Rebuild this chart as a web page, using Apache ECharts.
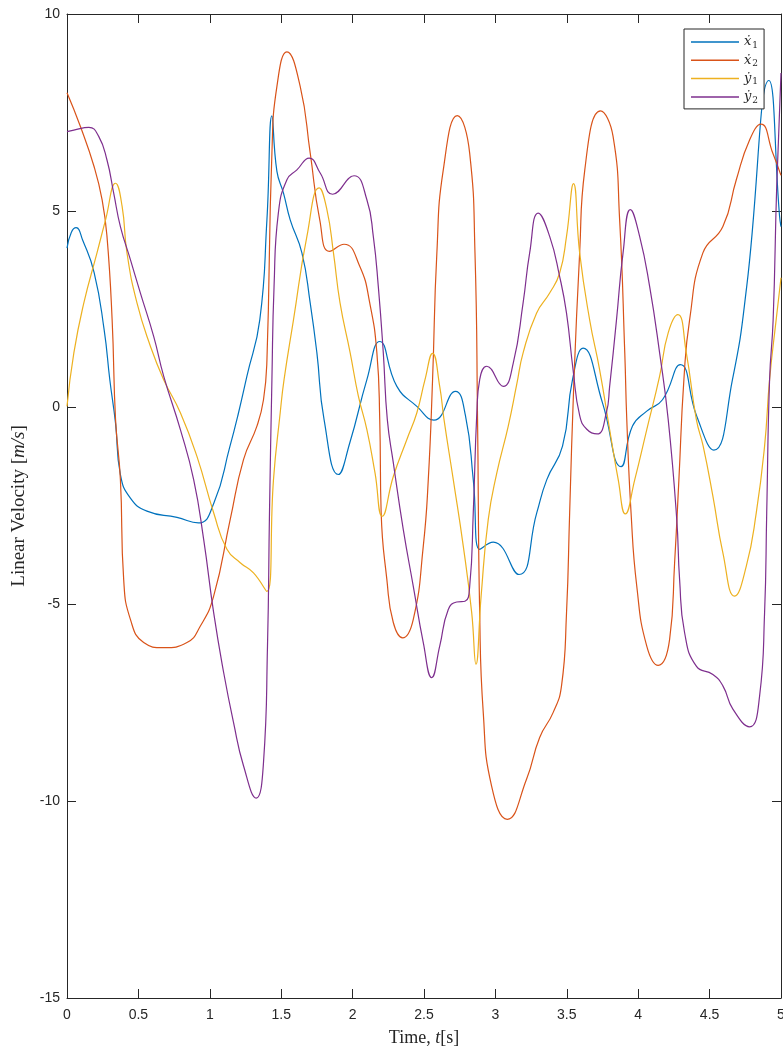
<!DOCTYPE html>
<html>
<head>
<meta charset="utf-8">
<script src="https://cdn.jsdelivr.net/npm/echarts@6/dist/echarts.min.js"></script>
<style>
  html, body { margin: 0; padding: 0; background: #fff; overflow: hidden; }
  #chart { width: 783px; height: 1053px; }
</style>
</head>
<body>
<div id="chart"></div>
<script>
// Velocity traces: [time (s), velocity (m/s)]
const x1Dot = [[0,4.05],[0.03,4.45],[0.064,4.57],[0.11,4.25],[0.19,3.43],[0.26,1.98],[0.30,0.7],[0.34,-0.4],[0.374,-1.7],[0.444,-2.3],[0.56,-2.63],[0.77,-2.79],[0.92,-2.93],[1.03,-2.41],[1.14,-1.0],[1.2,-0.15],[1.26,0.8],[1.35,2.23],[1.40,4.77],[1.435,7.41],[1.47,6.0],[1.516,5.45],[1.563,4.77],[1.645,3.93],[1.703,2.66],[1.75,1.39],[1.80,-0.3],[1.90,-1.70],[1.98,-0.9],[2.10,0.71],[2.19,1.68],[2.31,0.54],[2.45,0.03],[2.57,-0.32],[2.72,0.41],[2.79,-0.2],[2.845,-1.83],[2.89,-3.60],[2.985,-3.42],[3.165,-4.24],[3.29,-2.67],[3.36,-1.83],[3.47,-0.98],[3.54,0.71],[3.614,1.51],[3.75,0.12],[3.88,-1.5],[3.96,-0.47],[4.06,-0.09],[4.17,0.2],[4.295,1.09],[4.41,-0.22],[4.53,-1.08],[4.66,0.71],[4.76,3.08],[4.915,8.31],[4.99,4.86],[5,4.6]];
const x2Dot = [[0,8.0],[0.094,7.14],[0.19,6.12],[0.246,5.28],[0.28,4.35],[0.316,2.23],[0.34,-0.3],[0.374,-1.83],[0.397,-4.37],[0.444,-5.38],[0.537,-5.97],[0.677,-6.1],[0.84,-5.97],[0.934,-5.55],[1.027,-4.79],[1.143,-2.84],[1.236,-1.32],[1.33,-0.47],[1.376,0.2],[1.40,1.2],[1.435,6.47],[1.47,8.16],[1.54,9.04],[1.633,8.16],[1.703,6.47],[1.77,4.77],[1.838,3.97],[1.94,4.15],[2.05,3.59],[2.12,2.66],[2.17,1.39],[2.19,-0.3],[2.2,-2.67],[2.24,-4.37],[2.285,-5.46],[2.35,-5.85],[2.425,-5.38],[2.495,-3.52],[2.53,-1.83],[2.56,0.71],[2.59,3.92],[2.635,6.04],[2.733,7.42],[2.82,6.46],[2.857,3.93],[2.875,-0.3],[2.89,-5.22],[2.915,-7.75],[2.973,-9.61],[3.083,-10.46],[3.218,-9.44],[3.31,-8.38],[3.404,-7.75],[3.463,-7.07],[3.498,-5.22],[3.52,-2.67],[3.55,0.71],[3.59,3.93],[3.626,6.04],[3.736,7.54],[3.824,6.89],[3.87,4.77],[3.906,1.39],[3.92,-0.3],[3.95,-2.67],[3.99,-4.54],[4.06,-6.06],[4.14,-6.55],[4.22,-5.89],[4.255,-3.94],[4.285,-1.83],[4.32,0.71],[4.36,2.23],[4.453,3.93],[4.593,4.6],[4.687,5.79],[4.78,6.8],[4.86,7.2],[4.943,6.46],[5,5.9]];
const y1Dot = [[0,0.03],[0.048,1.39],[0.118,2.66],[0.21,3.93],[0.27,4.77],[0.34,5.7],[0.386,5.11],[0.42,3.93],[0.49,2.66],[0.584,1.56],[0.677,0.71],[0.794,-0.13],[0.91,-1.24],[1.027,-2.67],[1.12,-3.6],[1.213,-3.94],[1.306,-4.2],[1.40,-4.67],[1.446,-1.83],[1.493,-0.13],[1.52,0.71],[1.586,2.23],[1.68,4.35],[1.766,5.58],[1.82,5.03],[1.866,3.93],[1.912,2.66],[1.983,1.39],[2.04,0.3],[2.1,-0.56],[2.157,-1.66],[2.208,-2.76],[2.285,-1.75],[2.38,-0.81],[2.45,-0.13],[2.507,0.71],[2.56,1.38],[2.61,0.54],[2.64,-0.3],[2.705,-1.83],[2.775,-3.52],[2.834,-5.21],[2.864,-6.52],[2.9,-4.79],[2.95,-2.84],[3.01,-1.66],[3.09,-0.47],[3.15,0.6],[3.194,1.39],[3.288,2.4],[3.38,2.91],[3.45,3.42],[3.498,4.35],[3.547,5.69],[3.59,3.93],[3.66,2.23],[3.73,0.96],[3.80,-0.56],[3.86,-1.83],[3.91,-2.7],[3.976,-1.83],[4.06,-0.56],[4.15,0.8],[4.21,1.9],[4.278,2.36],[4.337,1.39],[4.407,-0.3],[4.455,-0.98],[4.523,-2.25],[4.593,-3.69],[4.675,-4.79],[4.757,-4.03],[4.827,-2.67],[4.885,-0.98],[4.92,0.71],[4.966,2.23],[5,3.3]];
const y2Dot = [[0,7.01],[0.048,7.05],[0.153,7.12],[0.222,6.89],[0.28,6.29],[0.327,5.45],[0.374,4.6],[0.444,3.76],[0.514,2.91],[0.607,1.81],[0.677,0.8],[0.794,-0.56],[0.887,-1.83],[0.957,-3.35],[1.027,-5.21],[1.097,-6.73],[1.166,-8.0],[1.236,-9.1],[1.325,-9.92],[1.376,-9.02],[1.404,-6.06],[1.418,-2.67],[1.435,0.71],[1.45,3.08],[1.48,4.94],[1.54,5.79],[1.61,6.04],[1.696,6.34],[1.773,5.96],[1.86,5.42],[2.01,5.89],[2.1,5.28],[2.145,4.35],[2.18,3.08],[2.215,1.39],[2.243,-0.3],[2.285,-1.4],[2.355,-3.1],[2.425,-4.54],[2.495,-5.97],[2.554,-6.86],[2.61,-6.06],[2.67,-5.13],[2.729,-4.94],[2.787,-4.92],[2.82,-4.54],[2.845,-2.67],[2.87,-0.13],[2.89,0.71],[2.94,1.05],[3.055,0.54],[3.125,1.13],[3.194,2.66],[3.24,3.93],[3.30,4.94],[3.38,4.35],[3.45,3.33],[3.498,2.4],[3.544,0.96],[3.59,-0.2],[3.64,-0.55],[3.712,-0.67],[3.777,-0.13],[3.80,0.54],[3.848,2.23],[3.894,3.93],[3.945,5.03],[4.01,4.35],[4.08,3.08],[4.15,1.39],[4.21,-0.3],[4.27,-2.84],[4.29,-4.37],[4.325,-5.72],[4.407,-6.57],[4.523,-6.78],[4.593,-7.07],[4.663,-7.66],[4.78,-8.11],[4.85,-7.33],[4.885,-5.21],[4.9,-2.67],[4.92,0.71],[4.945,2.23],[4.97,5.62],[5,8.5]];

// legend labels: dotted letter + subscript index
const seriesNames = ['x1', 'x2', 'y1', 'y2'];
const seriesLabels = ['{a|\u1E8B}{b|1}', '{a|\u1E8B}{b|2}', '{a|\u1E8F}{b|1}', '{a|\u1E8F}{b|2}'];
const seriesColors = ['#0072BD', '#D95319', '#EDB120', '#7E2F8E'];
const seriesData = [x1Dot, x2Dot, y1Dot, y2Dot];

const timeRange = [0, 5];
const timeStep = 0.5;
const velRange = [-15, 10];
const velStep = 5;

const ink = '#262626';
const tickFont = { fontFamily: 'Liberation Sans, Arial, sans-serif', fontSize: 14, color: ink };
const serif = 'Liberation Serif, Times New Roman, serif';

function valueAxis(extra) {
  return Object.assign({
    type: 'value',
    axisLine: { show: true, onZero: false, lineStyle: { color: ink, width: 1 } },
    axisTick: { show: true, inside: true, length: 9, lineStyle: { color: ink, width: 1 } },
    splitLine: { show: false },
    axisLabel: { show: false }
  }, extra);
}

const chart = echarts.init(document.getElementById('chart'), null, { renderer: 'canvas', width: 783, height: 1053 });

chart.setOption({
  animation: false,
  backgroundColor: '#ffffff',
  grid: { left: 67, right: 2, top: 14, bottom: 55, containLabel: false, outerBoundsMode: 'none' },
  legend: {
    left: 684,
    top: 29,
    orient: 'vertical',
    backgroundColor: '#ffffff',
    borderColor: ink,
    borderWidth: 1,
    padding: [5, 6, 4, 7],
    itemGap: 2.3,
    itemWidth: 48,
    itemHeight: 1.5,
    icon: 'rect',
    data: seriesNames,
    formatter: function (name) { return seriesLabels[seriesNames.indexOf(name)]; },
    textStyle: {
      color: ink,
      lineHeight: 16,
      rich: {
        a: { fontFamily: 'DejaVu Serif, serif', fontStyle: 'italic', fontSize: 13, color: ink, lineHeight: 16 },
        b: { fontFamily: 'DejaVu Serif, serif', fontSize: 9, color: ink, lineHeight: 16, padding: [7, 0, 0, 1] }
      }
    }
  },
  xAxis: [
    valueAxis({
      position: 'bottom', min: timeRange[0], max: timeRange[1], interval: timeStep,
      axisLabel: Object.assign({ show: true, margin: 10 }, tickFont),
      name: 'Time, {i|t}[s]',
      nameLocation: 'middle',
      nameGap: 31,
      nameTextStyle: {
        fontFamily: serif, fontSize: 18, color: ink,
        rich: { i: { fontFamily: serif, fontStyle: 'italic', fontSize: 18, color: ink } }
      }
    }),
    valueAxis({ position: 'top', min: timeRange[0], max: timeRange[1], interval: timeStep })
  ],
  yAxis: [
    valueAxis({
      position: 'left', min: velRange[0], max: velRange[1], interval: velStep,
      axisLabel: Object.assign({ show: true, margin: 7 }, tickFont),
      name: 'Linear Velocity [{i|m/s}]',
      nameLocation: 'middle',
      nameGap: 35,
      nameRotate: 90,
      nameTextStyle: {
        fontFamily: serif, fontSize: 19, color: ink,
        rich: { i: { fontFamily: serif, fontStyle: 'italic', fontSize: 19, color: ink } }
      }
    }),
    valueAxis({ position: 'right', min: velRange[0], max: velRange[1], interval: velStep })
  ],
  series: seriesNames.map((name, k) => ({
    name: name,
    type: 'line',
    xAxisIndex: 0,
    yAxisIndex: 0,
    data: seriesData[k],
    showSymbol: false,
    symbol: 'none',
    smooth: 0.5,
    color: seriesColors[k],
    lineStyle: { color: seriesColors[k], width: 1.2 },
    clip: true
  }))
});
</script>
</body>
</html>
